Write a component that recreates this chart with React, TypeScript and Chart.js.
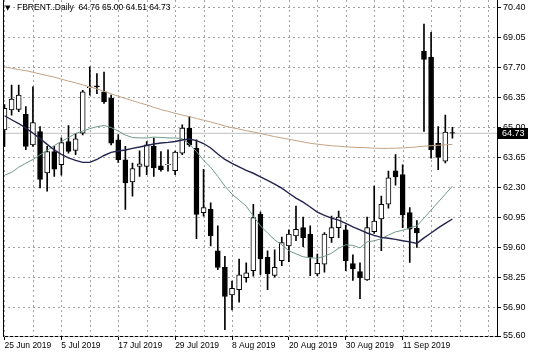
import React, { useEffect, useRef } from "react";
import { Chart, registerables } from "chart.js";

Chart.register(...registerables);

const symbolLabel = "FBRENT..Daily";

const dateLabels = ["25 Jun 2019", "5 Jul 2019", "17 Jul 2019", "29 Jul 2019", "8 Aug 2019", "20 Aug 2019", "30 Aug 2019", "11 Sep 2019"];
const dateLabelBars = [0, 8, 16, 24, 32, 40, 48, 56];
const gridBars = [0, 4, 8, 12, 16, 20, 24, 28, 32, 36, 40, 44, 48, 52, 56, 60, 64, 68];
const priceTicks = [70.4, 69.05, 67.7, 66.35, 65.0, 63.65, 62.3, 60.95, 59.6, 58.25, 56.9, 55.6];

const opens = [64.88, 65.78, 65.80, 65.58, 64.21, 64.81, 62.94, 63.91, 63.32, 64.36, 63.96, 64.73, 66.78, 66.87, 66.60, 66.30,
  64.44, 63.54, 62.54, 63.24, 63.24, 64.14, 63.27, 63.30, 63.05, 63.84, 64.96, 64.05, 61.15, 61.30, 59.44, 58.69,
  57.45, 57.69, 58.23, 58.54, 61.08, 59.14, 58.33, 58.99, 59.66, 60.11, 60.48, 60.19, 58.40, 58.84, 60.03, 60.48,
  60.38, 58.86, 58.50, 58.13, 60.30, 60.87, 61.54, 63.04, 62.87, 61.16, 60.45, 68.42, 68.16, 64.28, 63.47, 64.76];
const highs = [66.02, 66.90, 66.90, 65.93, 66.82, 65.03, 64.14, 64.14, 64.52, 65.08, 64.73, 66.67, 67.72, 67.42, 67.49, 66.45,
  64.67, 64.14, 63.39, 63.94, 64.36, 64.51, 63.91, 63.99, 63.93, 65.11, 65.48, 64.44, 63.11, 61.60, 60.56, 59.19,
  58.07, 59.07, 58.90, 61.53, 61.18, 59.44, 59.48, 60.06, 60.38, 61.45, 60.96, 60.56, 59.29, 60.26, 61.00, 61.23,
  60.60, 59.26, 58.90, 60.96, 62.35, 61.90, 63.03, 63.77, 63.31, 61.38, 60.80, 69.65, 69.28, 65.03, 65.55, 65.00];
const lows = [64.14, 65.55, 65.70, 63.99, 64.14, 62.27, 62.12, 62.79, 62.84, 63.84, 63.77, 64.66, 66.45, 66.52, 66.07, 64.21,
  63.42, 61.30, 61.90, 62.79, 62.87, 62.79, 63.02, 63.02, 62.87, 63.77, 64.14, 59.98, 61.00, 59.66, 58.59, 55.88,
  56.78, 57.12, 58.02, 58.30, 58.36, 57.69, 58.25, 58.77, 58.95, 59.89, 59.62, 58.32, 58.32, 58.47, 59.81, 60.03,
  58.54, 58.10, 57.28, 58.10, 60.22, 59.44, 61.36, 62.39, 60.48, 58.91, 59.59, 64.81, 63.61, 63.09, 63.39, 64.51];
const closes = [65.85, 66.27, 66.45, 64.14, 65.21, 62.65, 63.91, 63.11, 64.31, 63.91, 64.48, 66.60, 66.82, 66.82, 66.15, 64.28,
  63.54, 62.49, 63.14, 63.36, 64.21, 63.17, 63.09, 63.34, 63.88, 64.96, 64.21, 61.08, 61.38, 60.11, 58.69, 57.38,
  57.75, 58.35, 58.45, 60.93, 59.07, 58.40, 58.69, 59.81, 60.19, 60.40, 60.03, 59.14, 58.87, 60.19, 60.48, 60.96,
  58.99, 58.62, 58.23, 60.48, 60.78, 61.53, 62.72, 62.77, 61.05, 60.41, 60.24, 68.06, 63.99, 63.64, 64.78, 64.73];

// long moving average (tan)
const maLong = [67.72, 67.66, 67.60, 67.55, 67.48, 67.40, 67.33, 67.26, 67.17, 67.08, 67.00, 66.91, 66.82, 66.73, 66.62, 66.51,
  66.40, 66.30, 66.20, 66.10, 66.01, 65.90, 65.80, 65.72, 65.63, 65.55, 65.48, 65.40, 65.32, 65.24, 65.15, 65.06,
  64.98, 64.92, 64.85, 64.79, 64.72, 64.65, 64.58, 64.52, 64.46, 64.40, 64.34, 64.28, 64.24, 64.20, 64.17, 64.15,
  64.12, 64.10, 64.09, 64.08, 64.06, 64.05, 64.05, 64.06, 64.07, 64.09, 64.12, 64.15, 64.17, 64.19, 64.21, 64.23];
// medium moving average (navy)
const maMid = [65.52, 65.34, 65.17, 64.96, 64.74, 64.49, 64.23, 63.98, 63.78, 63.62, 63.51, 63.42, 63.42, 63.55, 63.73, 63.87,
  63.93, 63.98, 64.05, 64.11, 64.18, 64.25, 64.29, 64.32, 64.36, 64.43, 64.47, 64.40, 64.27, 64.07, 63.80, 63.55,
  63.38, 63.22, 63.06, 62.93, 62.77, 62.61, 62.44, 62.26, 62.03, 61.81, 61.63, 61.41, 61.18, 61.03, 60.91, 60.82,
  60.67, 60.51, 60.38, 60.24, 60.13, 60.04, 60.00, 59.95, 59.89, 59.84, 59.77, 60.02, 60.24, 60.47, 60.67, 60.87];
// fast moving average (teal)
const maFast = [62.84, 62.97, 63.20, 63.38, 63.55, 63.76, 63.96, 64.18, 64.36, 64.54, 64.72, 64.83, 64.94, 65.03, 65.08, 64.99,
  64.83, 64.65, 64.54, 64.52, 64.52, 64.56, 64.54, 64.52, 64.52, 64.49, 64.25, 63.91, 63.51, 63.20, 62.79, 62.35,
  61.99, 61.72, 61.45, 61.00, 60.56, 60.24, 59.93, 59.71, 59.44, 59.30, 59.17, 59.12, 59.10, 59.19, 59.33, 59.55,
  59.71, 59.68, 59.57, 59.84, 59.89, 59.98, 60.15, 60.29, 60.36, 60.47, 60.56, 60.91, 61.27, 61.63, 61.99, 62.35];

const X_MIN = -0.21;
const X_MAX = 69.27;
const FONT = '"Liberation Sans", Arial, sans-serif';
const GRID = "#a2a2a2";

export default function App() {
  const ref = useRef<HTMLCanvasElement | null>(null);

  useEffect(() => {
    const canvas = ref.current;
    if (!canvas) return;
    const last = closes.length - 1;

    const wickData = closes.map((_, i) => ({ x: i, y: [lows[i], highs[i]] }));
    const bodyData = closes.map((c, i) => ({ x: i, y: [opens[i], c] }));
    const bodyColors = closes.map((c, i) => (c >= opens[i] ? "#ffffff" : "#000000"));
    const line = (arr: number[]) => arr.map((v, i) => ({ x: i, y: v }));

    const framePlugin = {
      id: "mtFrame",
      beforeDatasetsDraw(chart: any) {
        const { ctx, chartArea, scales } = chart;
        ctx.save();
        ctx.strokeStyle = GRID;
        ctx.lineWidth = 1;
        ctx.setLineDash([2, 3]);
        ctx.beginPath();
        for (const v of gridBars) {
          const x = Math.round(scales.x.getPixelForValue(v)) + 0.5;
          if (x <= chartArea.left + 1 || x >= chartArea.right) continue;
          ctx.moveTo(x, 0);
          ctx.lineTo(x, chartArea.bottom);
        }
        for (const v of priceTicks) {
          const y = Math.round(scales.y.getPixelForValue(v)) + 0.5;
          ctx.moveTo(chartArea.left, y);
          ctx.lineTo(chartArea.right, y);
        }
        ctx.stroke();
        ctx.restore();
      },
      afterDraw(chart: any) {
        const { ctx, chartArea, scales } = chart;
        ctx.save();
        ctx.strokeStyle = "#000";
        ctx.lineWidth = 1;
        ctx.setLineDash([]);
        ctx.beginPath();
        ctx.moveTo(chartArea.left + 0.5, 0);
        ctx.lineTo(chartArea.left + 0.5, chartArea.bottom + 1);
        ctx.moveTo(chartArea.right + 0.5, 0);
        ctx.lineTo(chartArea.right + 0.5, chartArea.bottom + 1);
        ctx.stroke();

        const y = Math.round(scales.y.getPixelForValue(closes[last]));
        ctx.fillStyle = "#000";
        ctx.fillRect(chartArea.right + 1, y - 5, 30, 11);
        ctx.fillStyle = "#fff";
        ctx.font = `9px ${FONT}`;
        ctx.textBaseline = "middle";
        ctx.textAlign = "left";
        ctx.fillText(closes[last].toFixed(2), chartArea.right + 5, y + 0.5);

        ctx.fillStyle = "#000";
        ctx.font = `7px "DejaVu Sans", sans-serif`;
        ctx.fillText("\u25BC", 5, 8);
        ctx.font = `8.5px ${FONT}`;
        ctx.fillText(
          `${symbolLabel}  ${opens[last].toFixed(2)} ${highs[last].toFixed(2)} ${lows[last].toFixed(2)} ${closes[last].toFixed(2)}`,
          17,
          8
        );
        ctx.restore();
      },
    };

    const chart = new Chart(canvas, {
      type: "bar",
      data: {
        datasets: [
          {
            type: "line",
            data: [{ x: X_MIN, y: closes[last] }, { x: X_MAX, y: closes[last] }],
            borderColor: "#c0c0c0",
            borderWidth: 1,
            pointRadius: 0,
            order: 10,
          } as any,
          {
            type: "bar",
            data: wickData,
            backgroundColor: "#000",
            borderWidth: 0,
            barThickness: 1,
            grouped: false,
            order: 6,
          } as any,
          {
            type: "bar",
            data: bodyData,
            backgroundColor: bodyColors,
            borderColor: "#000",
            borderWidth: 1,
            borderSkipped: false,
            barThickness: 5,
            grouped: false,
            order: 5,
          } as any,
          {
            type: "line",
            data: line(maLong),
            borderColor: "#c4a283",
            borderWidth: 1,
            pointRadius: 0,
            order: 3,
          } as any,
          {
            type: "line",
            data: line(maFast),
            borderColor: "#6f9a8a",
            borderWidth: 1,
            pointRadius: 0,
            order: 2,
          } as any,
          {
            type: "line",
            data: line(maMid),
            borderColor: "#23234d",
            borderWidth: 1.4,
            pointRadius: 0,
            order: 1,
          } as any,
        ],
      },
      options: {
        responsive: false,
        devicePixelRatio: 1,
        animation: false,
        events: [],
        layout: { padding: { top: 5, left: 3, right: 0, bottom: 0 } },
        plugins: { legend: { display: false }, tooltip: { enabled: false } },
        scales: {
          x: {
            type: "linear",
            min: X_MIN,
            max: X_MAX,
            offset: false,
            afterBuildTicks: (scale: any) => {
              scale.ticks = gridBars.map((v) => ({ value: v }));
            },
            afterFit: (scale: any) => {
              scale.height = 22;
            },
            grid: {
              offset: false,
              drawOnChartArea: false,
              tickLength: 4,
              tickColor: (ctx: any) =>
                ctx.tick && dateLabelBars.includes(ctx.tick.value) ? "#000" : "rgba(0,0,0,0)",
            },
            border: { display: true, color: "#000", width: 1 },
            ticks: {
              autoSkip: false,
              maxRotation: 0,
              minRotation: 0,
              align: "start",
              padding: 1,
              color: "#000",
              font: { family: FONT, size: 8.5 },
              callback: (value: any) => {
                const k = dateLabelBars.indexOf(Number(value));
                return k >= 0 ? dateLabels[k] : "";
              },
            },
          },
          y: {
            type: "linear",
            position: "right",
            min: 55.6,
            max: 70.4,
            afterBuildTicks: (scale: any) => {
              scale.ticks = priceTicks.map((v) => ({ value: v }));
            },
            afterFit: (scale: any) => {
              scale.width = 39;
            },
            grid: {
              drawOnChartArea: false,
              tickLength: 4,
              tickColor: "#000",
            },
            border: { display: false },
            ticks: {
              autoSkip: false,
              padding: 2,
              color: "#000",
              font: { family: FONT, size: 9 },
              callback: (value: any) => Number(value).toFixed(2),
            },
          },
        },
      } as any,
      plugins: [framePlugin],
    });

    return () => chart.destroy();
  }, []);

  return (
    <div style={{ position: "fixed", left: 0, top: 0, width: 536, height: 358, background: "#fff" }}>
      <canvas ref={ref} width={536} height={358} style={{ display: "block", width: 536, height: 358 }} />
    </div>
  );
}
